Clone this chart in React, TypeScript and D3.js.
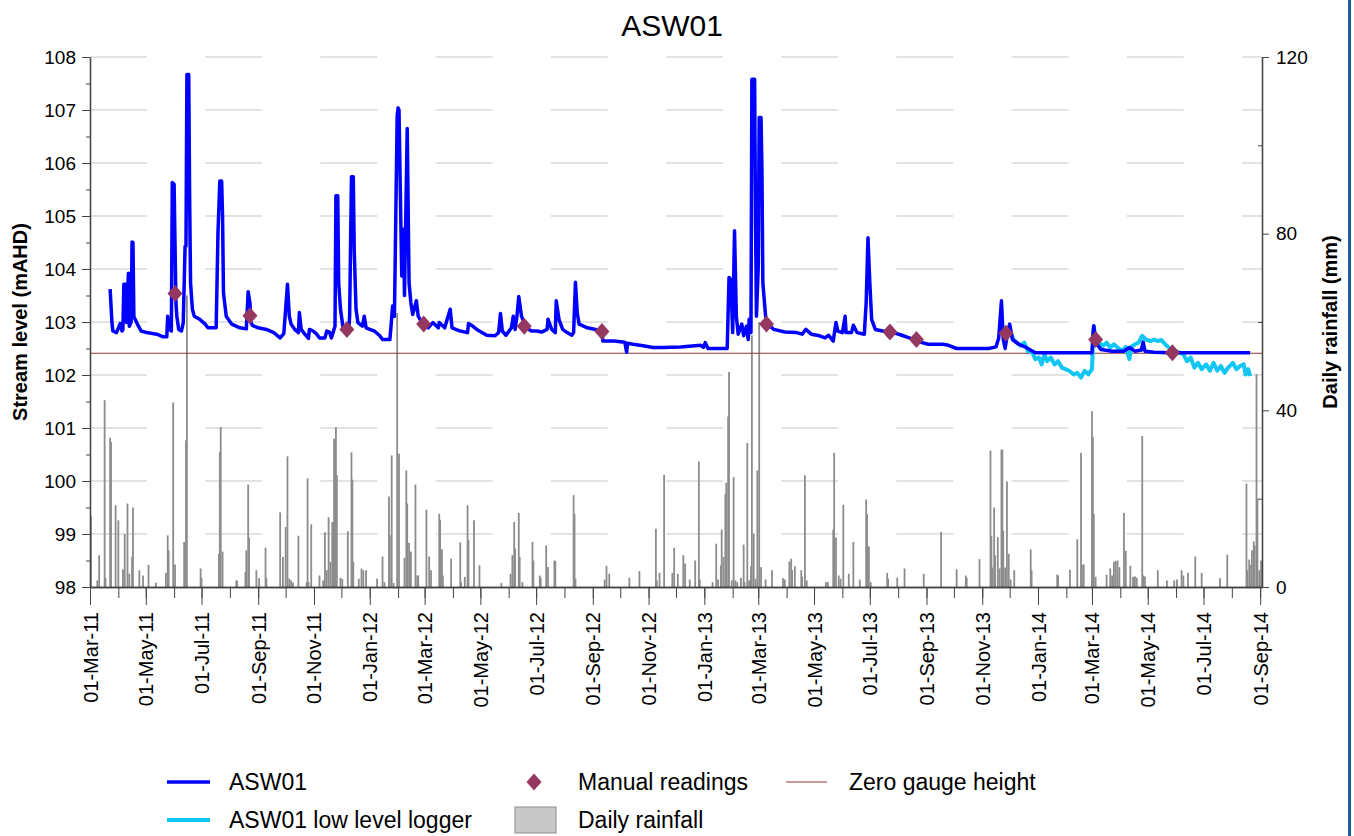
import React, { useEffect, useRef } from "react";
import {
  axisBottom,
  axisLeft,
  axisRight,
  line,
  scaleLinear,
  scaleTime,
  select,
  timeFormat,
  timeMonth,
  timeParse,
} from "d3";

// stream level, ASW01 logger (date, mAHD)
const asw01: [string, number][] = [
  ["2011-03-23", 103.62], ["2011-03-25", 102.99], ["2011-03-26", 102.83], ["2011-03-30", 102.8],
  ["2011-04-03", 102.97], ["2011-04-05", 102.83], ["2011-04-06", 102.86], ["2011-04-07", 103.71],
  ["2011-04-09", 103.71], ["2011-04-10", 102.99], ["2011-04-12", 103.92], ["2011-04-13", 102.92],
  ["2011-04-15", 103.0], ["2011-04-16", 104.51], ["2011-04-17", 104.5], ["2011-04-18", 103.1],
  ["2011-04-23", 102.92], ["2011-04-26", 102.83], ["2011-05-02", 102.8], ["2011-05-13", 102.77],
  ["2011-05-20", 102.72], ["2011-05-24", 102.72], ["2011-05-25", 103.11], ["2011-05-27", 102.86],
  ["2011-05-29", 102.83], ["2011-05-30", 105.63], ["2011-06-01", 105.6], ["2011-06-03", 103.36],
  ["2011-06-04", 103.11], ["2011-06-06", 102.86], ["2011-06-09", 102.83], ["2011-06-11", 102.99],
  ["2011-06-13", 104.43], ["2011-06-14", 104.43], ["2011-06-15", 107.67], ["2011-06-17", 107.67],
  ["2011-06-18", 105.31], ["2011-06-19", 103.74], ["2011-06-21", 103.24], ["2011-06-23", 103.11],
  ["2011-06-29", 103.05], ["2011-07-05", 102.96], ["2011-07-08", 102.89], ["2011-07-17", 102.89],
  ["2011-07-19", 104.69], ["2011-07-21", 105.66], ["2011-07-23", 105.66], ["2011-07-24", 105.0],
  ["2011-07-25", 103.55], ["2011-07-28", 103.11], ["2011-08-03", 102.96], ["2011-08-12", 102.89],
  ["2011-08-19", 102.87], ["2011-08-21", 103.57], ["2011-08-23", 103.36], ["2011-08-24", 102.99],
  ["2011-08-26", 102.93], ["2011-09-01", 102.89], ["2011-09-10", 102.86], ["2011-09-18", 102.8],
  ["2011-09-25", 102.7], ["2011-09-29", 102.78], ["2011-10-03", 103.71], ["2011-10-05", 103.11],
  ["2011-10-07", 102.96], ["2011-10-11", 102.86], ["2011-10-15", 102.8], ["2011-10-16", 103.18],
  ["2011-10-18", 102.86], ["2011-10-22", 102.77], ["2011-10-26", 102.69], ["2011-10-27", 102.86],
  ["2011-10-31", 102.83], ["2011-11-04", 102.77], ["2011-11-07", 102.7], ["2011-11-13", 102.7],
  ["2011-11-15", 102.83], ["2011-11-18", 102.81], ["2011-11-20", 102.7], ["2011-11-24", 102.92],
  ["2011-11-25", 105.38], ["2011-11-27", 105.38], ["2011-11-28", 103.74], ["2011-11-30", 103.24],
  ["2011-12-03", 102.87], ["2011-12-09", 102.83], ["2011-12-10", 103.11], ["2011-12-12", 105.74],
  ["2011-12-14", 105.74], ["2011-12-15", 104.37], ["2011-12-17", 103.24], ["2011-12-19", 102.99],
  ["2011-12-24", 102.92], ["2011-12-26", 103.11], ["2011-12-28", 102.89], ["2012-01-01", 102.86],
  ["2012-01-06", 102.83], ["2012-01-12", 102.74], ["2012-01-15", 102.67], ["2012-01-23", 102.67],
  ["2012-01-24", 102.86], ["2012-01-26", 103.3], ["2012-01-28", 103.11], ["2012-01-31", 106.89],
  ["2012-02-01", 107.04], ["2012-02-02", 107.0], ["2012-02-05", 103.87], ["2012-02-07", 104.75],
  ["2012-02-08", 103.5], ["2012-02-11", 106.65], ["2012-02-13", 103.74], ["2012-02-15", 103.36],
  ["2012-02-17", 103.14], ["2012-02-21", 103.4], ["2012-02-23", 103.11], ["2012-02-26", 103.02],
  ["2012-03-05", 102.89], ["2012-03-07", 102.93], ["2012-03-10", 102.99], ["2012-03-16", 102.89],
  ["2012-03-17", 102.99], ["2012-03-23", 102.89], ["2012-03-29", 103.24], ["2012-03-31", 102.89],
  ["2012-04-09", 102.83], ["2012-04-17", 102.8], ["2012-04-18", 102.97], ["2012-04-22", 102.93],
  ["2012-04-27", 102.86], ["2012-05-08", 102.75], ["2012-05-17", 102.74], ["2012-05-21", 102.8],
  ["2012-05-23", 103.16], ["2012-05-25", 102.83], ["2012-05-29", 102.75], ["2012-06-04", 102.89],
  ["2012-06-06", 103.11], ["2012-06-08", 102.86], ["2012-06-10", 103.11], ["2012-06-12", 103.48],
  ["2012-06-15", 103.11], ["2012-06-20", 102.89], ["2012-06-26", 102.83], ["2012-07-02", 102.83],
  ["2012-07-07", 102.81], ["2012-07-13", 102.86], ["2012-07-14", 103.05], ["2012-07-18", 102.86],
  ["2012-07-22", 102.8], ["2012-07-23", 103.4], ["2012-07-26", 103.05], ["2012-07-30", 102.86],
  ["2012-08-04", 102.8], ["2012-08-09", 102.75], ["2012-08-11", 102.8], ["2012-08-13", 103.75],
  ["2012-08-15", 103.17], ["2012-08-17", 102.96], ["2012-08-26", 102.89], ["2012-09-04", 102.86],
  ["2012-09-11", 102.8], ["2012-09-12", 102.64], ["2012-09-24", 102.64], ["2012-10-06", 102.62],
  ["2012-10-08", 102.43], ["2012-10-09", 102.6], ["2012-10-15", 102.58], ["2012-10-26", 102.55],
  ["2012-11-06", 102.52], ["2012-11-17", 102.52], ["2012-12-06", 102.53], ["2012-12-28", 102.56],
  ["2012-12-31", 102.52], ["2013-01-02", 102.61], ["2013-01-05", 102.5], ["2013-01-26", 102.5],
  ["2013-01-28", 103.84], ["2013-01-30", 103.8], ["2013-02-01", 102.8], ["2013-02-03", 104.72],
  ["2013-02-05", 103.11], ["2013-02-07", 102.77], ["2013-02-11", 102.96], ["2013-02-13", 102.74],
  ["2013-02-16", 102.92], ["2013-02-18", 102.67], ["2013-02-19", 103.05], ["2013-02-21", 102.8],
  ["2013-02-22", 107.58], ["2013-02-25", 107.58], ["2013-02-26", 104.87], ["2013-02-27", 103.11],
  ["2013-03-01", 104.06], ["2013-03-02", 106.86], ["2013-03-04", 106.86], ["2013-03-05", 105.88],
  ["2013-03-06", 103.74], ["2013-03-09", 103.11], ["2013-03-11", 102.97], ["2013-03-18", 102.86],
  ["2013-03-30", 102.81], ["2013-04-12", 102.8], ["2013-04-18", 102.77], ["2013-04-22", 102.86],
  ["2013-04-28", 102.77], ["2013-05-07", 102.74], ["2013-05-13", 102.7], ["2013-05-17", 102.75],
  ["2013-05-22", 102.64], ["2013-05-25", 102.99], ["2013-05-27", 102.83], ["2013-06-01", 102.8],
  ["2013-06-04", 103.11], ["2013-06-05", 102.8], ["2013-06-11", 102.8], ["2013-06-13", 102.94],
  ["2013-06-17", 102.8], ["2013-06-25", 102.77], ["2013-06-27", 103.36], ["2013-06-29", 104.59],
  ["2013-07-01", 103.74], ["2013-07-03", 103.05], ["2013-07-07", 102.86], ["2013-07-15", 102.83],
  ["2013-07-27", 102.8], ["2013-08-05", 102.75], ["2013-08-13", 102.7], ["2013-08-25", 102.62],
  ["2013-09-03", 102.58], ["2013-09-19", 102.58], ["2013-09-25", 102.56], ["2013-10-04", 102.5],
  ["2013-10-22", 102.5], ["2013-11-08", 102.5], ["2013-11-16", 102.53], ["2013-11-19", 102.7],
  ["2013-11-22", 103.4], ["2013-11-24", 102.67], ["2013-11-26", 102.5], ["2013-11-28", 102.72],
  ["2013-12-01", 102.96], ["2013-12-04", 102.67], ["2013-12-11", 102.58], ["2013-12-19", 102.52],
  ["2013-12-29", 102.42], ["2014-03-01", 102.42], ["2014-03-02", 102.74], ["2014-03-03", 102.93],
  ["2014-03-05", 102.61], ["2014-03-11", 102.48], ["2014-03-23", 102.45], ["2014-04-05", 102.45],
  ["2014-04-11", 102.52], ["2014-04-17", 102.45], ["2014-04-24", 102.47], ["2014-04-26", 102.62],
  ["2014-04-28", 102.45], ["2014-05-08", 102.43], ["2014-05-24", 102.42], ["2014-08-21", 102.42],
];

// low level logger (date, mAHD)
const lowLogger: [string, number][] = [
  ["2013-11-30", 102.92], ["2013-12-05", 102.67], ["2013-12-09", 102.61], ["2013-12-13", 102.55],
  ["2013-12-17", 102.61], ["2013-12-21", 102.45], ["2013-12-25", 102.45], ["2013-12-29", 102.3],
  ["2014-01-02", 102.33], ["2014-01-05", 102.2], ["2014-01-08", 102.39], ["2014-01-11", 102.26],
  ["2014-01-15", 102.33], ["2014-01-19", 102.2], ["2014-01-23", 102.26], ["2014-01-27", 102.14],
  ["2014-01-31", 102.11], ["2014-02-04", 102.08], ["2014-02-09", 102.01], ["2014-02-13", 102.04],
  ["2014-02-17", 101.95], ["2014-02-21", 102.08], ["2014-02-25", 102.01], ["2014-03-01", 102.11],
  ["2014-03-03", 102.92], ["2014-03-05", 102.67], ["2014-03-09", 102.61], ["2014-03-13", 102.55],
  ["2014-03-17", 102.61], ["2014-03-21", 102.52], ["2014-03-25", 102.58], ["2014-03-29", 102.52],
  ["2014-04-03", 102.45], ["2014-04-07", 102.53], ["2014-04-11", 102.3], ["2014-04-13", 102.53],
  ["2014-04-17", 102.58], ["2014-04-21", 102.61], ["2014-04-25", 102.74], ["2014-04-29", 102.67],
  ["2014-05-04", 102.64], ["2014-05-08", 102.67], ["2014-05-12", 102.64], ["2014-05-16", 102.66],
  ["2014-05-20", 102.58], ["2014-05-24", 102.52], ["2014-05-28", 102.45], ["2014-06-01", 102.45],
  ["2014-06-05", 102.42], ["2014-06-09", 102.39], ["2014-06-13", 102.26], ["2014-06-17", 102.33],
  ["2014-06-21", 102.14], ["2014-06-25", 102.23], ["2014-06-29", 102.11], ["2014-07-04", 102.2],
  ["2014-07-08", 102.08], ["2014-07-12", 102.23], ["2014-07-16", 102.08], ["2014-07-20", 102.17],
  ["2014-07-24", 102.04], ["2014-07-28", 102.14], ["2014-08-02", 102.23], ["2014-08-06", 102.11],
  ["2014-08-10", 102.17], ["2014-08-14", 102.2], ["2014-08-16", 102.01], ["2014-08-19", 102.11],
  ["2014-08-21", 101.98],
];

// manual readings (date, mAHD)
const manual: [string, number][] = [
  ["2011-06-02", 103.54], ["2011-08-23", 103.12], ["2011-12-07", 102.86], ["2012-02-29", 102.96],
  ["2012-06-18", 102.92], ["2012-09-11", 102.82], ["2013-03-10", 102.96], ["2013-07-23", 102.81],
  ["2013-08-21", 102.67], ["2013-11-27", 102.79], ["2014-03-05", 102.67], ["2014-05-28", 102.42],
];

// daily rainfall (date, mm), dry days left out
const rainfall: [string, number][] = [
  ["2011-03-02", 16.0], ["2011-03-09", 1.5], ["2011-03-11", 7.2], ["2011-03-17", 42.3],
  ["2011-03-18", 2.0], ["2011-03-23", 33.8], ["2011-03-24", 32.8], ["2011-03-29", 18.5],
  ["2011-04-01", 15.1], ["2011-04-06", 4.0], ["2011-04-08", 12.0], ["2011-04-11", 18.9],
  ["2011-04-13", 3.0], ["2011-04-16", 6.8], ["2011-04-17", 18.0], ["2011-04-24", 3.8],
  ["2011-04-28", 2.6], ["2011-05-04", 5.0], ["2011-05-12", 1.0], ["2011-05-23", 3.2],
  ["2011-05-25", 11.7], ["2011-05-26", 8.3], ["2011-05-31", 41.8], ["2011-06-02", 5.1],
  ["2011-06-12", 10.2], ["2011-06-14", 33.2], ["2011-06-15", 66.0], ["2011-06-30", 4.2],
  ["2011-07-01", 2.0], ["2011-07-20", 7.5], ["2011-07-21", 30.6], ["2011-07-22", 36.2],
  ["2011-07-24", 8.0], ["2011-08-08", 1.5], ["2011-08-09", 1.4], ["2011-08-18", 3.4],
  ["2011-08-19", 8.3], ["2011-08-21", 23.2], ["2011-08-22", 11.2], ["2011-08-30", 3.8],
  ["2011-09-02", 2.0], ["2011-09-09", 8.9], ["2011-09-10", 2.0], ["2011-09-25", 16.9],
  ["2011-09-28", 6.8], ["2011-10-01", 13.6], ["2011-10-03", 29.6], ["2011-10-05", 1.9],
  ["2011-10-07", 1.5], ["2011-10-09", 1.0], ["2011-10-15", 11.6], ["2011-10-24", 1.1],
  ["2011-10-25", 24.6], ["2011-10-26", 1.1], ["2011-10-29", 14.2], ["2011-11-07", 2.6],
  ["2011-11-11", 1.5], ["2011-11-13", 12.4], ["2011-11-15", 3.8], ["2011-11-17", 15.8],
  ["2011-11-19", 5.7], ["2011-11-21", 14.7], ["2011-11-22", 14.7], ["2011-11-23", 33.6],
  ["2011-11-25", 36.2], ["2011-11-26", 25.3], ["2011-11-30", 2.1], ["2011-12-02", 1.8],
  ["2011-12-08", 12.6], ["2011-12-12", 30.5], ["2011-12-13", 24.3], ["2011-12-14", 5.7],
  ["2011-12-20", 1.9], ["2011-12-23", 4.2], ["2011-12-25", 3.8], ["2011-12-28", 3.8],
  ["2012-01-09", 1.9], ["2012-01-15", 6.9], ["2012-01-17", 1.1], ["2012-01-22", 20.5],
  ["2012-01-23", 11.7], ["2012-01-25", 29.8], ["2012-01-27", 0.9], ["2012-01-31", 62.0],
  ["2012-02-02", 30.2], ["2012-02-08", 6.6], ["2012-02-10", 26.4], ["2012-02-11", 18.9],
  ["2012-02-13", 10.0], ["2012-02-15", 8.0], ["2012-02-20", 23.2], ["2012-02-22", 2.6],
  ["2012-02-23", 2.6], ["2012-03-03", 17.5], ["2012-03-06", 6.9], ["2012-03-08", 3.8],
  ["2012-03-17", 16.6], ["2012-03-18", 15.2], ["2012-03-20", 8.5], ["2012-03-21", 2.6],
  ["2012-03-30", 6.4], ["2012-04-09", 10.1], ["2012-04-10", 1.1], ["2012-04-14", 2.3],
  ["2012-04-17", 18.5], ["2012-04-18", 10.6], ["2012-04-24", 15.1], ["2012-04-30", 4.9],
  ["2012-05-24", 0.9], ["2012-06-03", 3.0], ["2012-06-05", 7.2], ["2012-06-07", 14.7],
  ["2012-06-08", 8.7], ["2012-06-12", 16.8], ["2012-06-13", 6.8], ["2012-06-16", 1.1],
  ["2012-06-27", 10.2], ["2012-06-28", 6.0], ["2012-07-05", 2.6], ["2012-07-06", 2.1],
  ["2012-07-12", 9.4], ["2012-07-14", 4.5], ["2012-07-21", 6.0], ["2012-07-22", 5.9],
  ["2012-08-11", 20.8], ["2012-08-12", 16.5], ["2012-08-13", 1.9], ["2012-09-14", 1.7],
  ["2012-09-16", 4.8], ["2012-09-19", 3.0], ["2012-10-11", 2.1], ["2012-10-22", 3.6],
  ["2012-11-09", 13.2], ["2012-11-10", 1.5], ["2012-11-13", 3.2], ["2012-11-18", 25.4],
  ["2012-11-27", 3.2], ["2012-11-29", 8.9], ["2012-12-03", 3.0], ["2012-12-09", 7.2],
  ["2012-12-11", 5.3], ["2012-12-16", 1.7], ["2012-12-22", 6.0], ["2012-12-26", 28.4],
  ["2012-12-27", 1.7], ["2013-01-10", 1.1], ["2013-01-14", 9.8], ["2013-01-16", 1.7],
  ["2013-01-19", 4.9], ["2013-01-20", 13.0], ["2013-01-22", 6.8], ["2013-01-24", 21.0],
  ["2013-01-25", 23.6], ["2013-01-27", 38.6], ["2013-01-28", 48.7], ["2013-01-31", 1.5],
  ["2013-02-02", 24.9], ["2013-02-04", 1.5], ["2013-02-06", 1.1], ["2013-02-10", 2.1],
  ["2013-02-13", 9.6], ["2013-02-14", 1.1], ["2013-02-17", 32.6], ["2013-02-19", 1.5],
  ["2013-02-21", 4.7], ["2013-02-22", 57.0], ["2013-02-24", 12.1], ["2013-02-26", 1.9],
  ["2013-02-28", 26.4], ["2013-03-02", 60.0], ["2013-03-04", 4.5], ["2013-03-09", 1.7],
  ["2013-03-16", 3.8], ["2013-03-28", 2.0], ["2013-03-30", 1.7], ["2013-04-04", 5.8],
  ["2013-04-06", 6.4], ["2013-04-07", 3.8], ["2013-04-10", 4.7], ["2013-04-17", 3.8],
  ["2013-04-18", 2.3], ["2013-04-21", 25.3], ["2013-04-23", 1.5], ["2013-05-14", 1.1],
  ["2013-05-16", 1.1], ["2013-05-22", 13.0], ["2013-05-23", 30.4], ["2013-05-25", 11.2],
  ["2013-05-28", 2.6], ["2013-05-30", 1.9], ["2013-06-02", 18.6], ["2013-06-08", 3.0],
  ["2013-06-13", 10.2], ["2013-06-20", 1.7], ["2013-06-27", 19.8], ["2013-06-28", 16.5],
  ["2013-06-30", 9.2], ["2013-07-02", 1.1], ["2013-07-20", 3.2], ["2013-07-21", 1.9],
  ["2013-07-31", 2.1], ["2013-08-08", 4.2], ["2013-08-29", 3.0], ["2013-09-17", 12.5],
  ["2013-10-04", 4.0], ["2013-10-14", 2.6], ["2013-10-15", 2.1], ["2013-10-29", 6.3],
  ["2013-11-10", 30.9], ["2013-11-11", 11.5], ["2013-11-12", 4.4], ["2013-11-14", 18.0],
  ["2013-11-15", 7.2], ["2013-11-18", 11.3], ["2013-11-20", 4.2], ["2013-11-22", 31.1],
  ["2013-11-23", 31.1], ["2013-11-24", 12.7], ["2013-11-26", 4.4], ["2013-11-28", 23.9],
  ["2013-11-30", 7.5], ["2013-12-02", 1.7], ["2013-12-06", 3.8], ["2013-12-24", 8.5],
  ["2013-12-25", 3.8], ["2014-01-22", 2.8], ["2014-01-23", 2.6], ["2014-02-05", 3.9],
  ["2014-02-13", 10.8], ["2014-02-17", 30.4], ["2014-02-18", 5.1], ["2014-02-20", 5.1],
  ["2014-03-01", 39.8], ["2014-03-02", 34.0], ["2014-03-03", 16.6], ["2014-03-05", 2.3],
  ["2014-03-17", 2.8], ["2014-03-21", 4.2], ["2014-03-23", 2.6], ["2014-03-25", 5.7],
  ["2014-03-27", 5.9], ["2014-03-29", 6.0], ["2014-03-31", 4.5], ["2014-04-05", 16.8],
  ["2014-04-07", 8.2], ["2014-04-12", 4.8], ["2014-04-15", 2.3], ["2014-04-17", 2.4],
  ["2014-04-19", 2.1], ["2014-04-25", 34.2], ["2014-04-26", 2.6], ["2014-04-28", 2.4],
  ["2014-05-12", 3.8], ["2014-05-22", 1.5], ["2014-05-30", 1.5], ["2014-06-02", 1.7],
  ["2014-06-07", 3.8], ["2014-06-09", 2.6], ["2014-06-14", 3.2], ["2014-06-22", 6.9],
  ["2014-06-29", 3.2], ["2014-07-19", 2.0], ["2014-07-27", 7.3], ["2014-08-17", 23.4],
  ["2014-08-18", 3.8], ["2014-08-20", 6.2], ["2014-08-22", 5.0], ["2014-08-23", 8.3],
  ["2014-08-25", 10.3], ["2014-08-26", 9.4], ["2014-08-28", 48.2], ["2014-08-29", 20.0],
  ["2014-08-31", 3.8], ["2014-09-02", 6.0],
];

const zeroGauge = 102.41;
const levelTicks = [98, 99, 100, 101, 102, 103, 104, 105, 106, 107, 108];
const levelMinor = [98.5, 99.5, 100.5, 101.5, 102.5, 103.5, 104.5, 105.5, 106.5, 107.5];
const rainTicks = [0, 40, 80, 120];
const rainMinor = [20, 60, 100];
const dateRange = ["2011-03-01", "2014-09-03"];

const width = 1354;
const height = 836;
const left = 90;
const right = 1262;
const top = 57;
const bottom = 587;
const font = "'Liberation Sans', Arial, sans-serif";

const parse = timeParse("%Y-%m-%d");

export default function App() {
  const svgRef = useRef<SVGSVGElement | null>(null);

  useEffect(() => {
    const svg = select(svgRef.current);
    svg.selectAll("*").remove();
    svg
      .attr("width", width)
      .attr("height", height)
      .style("background", "#fff")
      .style("font-family", font);

    const x = scaleTime()
      .domain(dateRange.map((d) => parse(d) as Date))
      .range([left, right]);
    const y = scaleLinear().domain([98, 108]).range([bottom, top]);
    const yRain = scaleLinear().domain([0, 120]).range([bottom, top]);

    // dashed gridlines
    svg
      .append("g")
      .selectAll("line")
      .data(levelTicks.slice(1))
      .join("line")
      .attr("x1", left)
      .attr("x2", right)
      .attr("y1", (d) => y(d))
      .attr("y2", (d) => y(d))
      .attr("stroke", "#dadada")
      .attr("stroke-width", 1.5)
      .attr("stroke-dasharray", "57 58.2");

    // rainfall bars
    svg
      .append("g")
      .selectAll("rect")
      .data(rainfall)
      .join("rect")
      .attr("x", (d) => x(parse(d[0]) as Date) - 0.9)
      .attr("width", 1.8)
      .attr("y", (d) => yRain(d[1]))
      .attr("height", (d) => bottom - yRain(d[1]))
      .attr("fill", "#8c8c8c");

    // zero gauge height
    svg
      .append("line")
      .attr("x1", left)
      .attr("x2", right)
      .attr("y1", y(zeroGauge))
      .attr("y2", y(zeroGauge))
      .attr("stroke", "#8b3a3a")
      .attr("stroke-width", 1.2);

    const levelLine = line<[string, number]>()
      .x((d) => x(parse(d[0]) as Date))
      .y((d) => y(d[1]));

    svg
      .append("path")
      .datum(lowLogger)
      .attr("fill", "none")
      .attr("stroke", "#12c6f3")
      .attr("stroke-width", 4)
      .attr("stroke-linejoin", "round")
      .attr("d", levelLine);

    svg
      .append("path")
      .datum(asw01)
      .attr("fill", "none")
      .attr("stroke", "#0000ff")
      .attr("stroke-width", 3.5)
      .attr("stroke-linejoin", "round")
      .attr("d", levelLine);

    const diamond = "M0,-8.5L7.5,0L0,8.5L-7.5,0Z";
    svg
      .append("g")
      .selectAll("path")
      .data(manual)
      .join("path")
      .attr("d", diamond)
      .attr("transform", (d) => `translate(${x(parse(d[0]) as Date)},${y(d[1])})`)
      .attr("fill", "#953861");

    const styleAxis = (g: any, size: number) => {
      g.selectAll("text").attr("font-family", font).attr("font-size", size).attr("fill", "#000");
      g.selectAll("line").attr("stroke", "#444");
      g.select(".domain").attr("stroke", "#444").attr("stroke-width", 1.3);
    };

    // left axis
    svg
      .append("g")
      .attr("transform", `translate(${left},0)`)
      .call(axisLeft(y).tickValues(levelMinor).tickSize(4).tickSizeOuter(0).tickFormat(() => ""))
      .call((g) => styleAxis(g, 19));
    svg
      .append("g")
      .attr("transform", `translate(${left},0)`)
      .call(axisLeft(y).tickValues(levelTicks).tickSize(8).tickSizeOuter(0).tickPadding(6))
      .call((g) => styleAxis(g, 19));

    // right axis
    svg
      .append("g")
      .attr("transform", `translate(${right},0)`)
      .call(axisLeft(yRain).tickValues(rainMinor).tickSize(4).tickSizeOuter(0).tickFormat(() => ""))
      .call((g) => styleAxis(g, 19));
    svg
      .append("g")
      .attr("transform", `translate(${right},0)`)
      .call(axisRight(yRain).tickValues(rainTicks).tickSize(7).tickSizeOuter(0).tickPadding(7))
      .call((g) => styleAxis(g, 19));

    // bottom axis
    svg
      .append("g")
      .attr("transform", `translate(0,${bottom})`)
      .call(axisBottom(x).ticks(timeMonth.every(1)).tickSize(11).tickSizeOuter(0).tickFormat(() => ""))
      .call((g) => styleAxis(g, 20));
    svg
      .append("g")
      .attr("transform", `translate(0,${bottom})`)
      .call(
        axisBottom(x)
          .ticks(timeMonth.every(2))
          .tickSize(18)
          .tickSizeOuter(0)
          .tickFormat((d) => timeFormat("%d-%b-%y")(d as Date))
      )
      .call((g) => styleAxis(g, 20))
      .call((g) =>
        g
          .selectAll("text")
          .attr("transform", "rotate(-90)")
          .attr("text-anchor", "end")
          .attr("x", -25)
          .attr("y", 0)
          .attr("dy", "0.35em")
      );

    // titles
    svg
      .append("text")
      .attr("x", 672)
      .attr("y", 36)
      .attr("text-anchor", "middle")
      .attr("font-size", 30)
      .text("ASW01");
    svg
      .append("text")
      .attr("transform", `translate(27,${(top + bottom) / 2}) rotate(-90)`)
      .attr("text-anchor", "middle")
      .attr("font-size", 20)
      .attr("font-weight", "bold")
      .text("Stream level (mAHD)");
    svg
      .append("text")
      .attr("transform", `translate(1337,${(top + bottom) / 2}) rotate(-90)`)
      .attr("text-anchor", "middle")
      .attr("font-size", 20)
      .attr("font-weight", "bold")
      .text("Daily rainfall (mm)");

    // legend
    const lg = svg.append("g").attr("font-size", 23);
    const row1 = 782;
    const row2 = 820;
    lg.append("line").attr("x1", 167).attr("x2", 210).attr("y1", row1).attr("y2", row1)
      .attr("stroke", "#0000ff").attr("stroke-width", 3.5);
    lg.append("text").attr("x", 229).attr("y", row1).attr("dy", "0.35em").text("ASW01");
    lg.append("line").attr("x1", 167).attr("x2", 210).attr("y1", row2).attr("y2", row2)
      .attr("stroke", "#12c6f3").attr("stroke-width", 4);
    lg.append("text").attr("x", 229).attr("y", row2).attr("dy", "0.35em").text("ASW01 low level logger");
    lg.append("path").attr("d", diamond).attr("transform", `translate(534,${row1})`).attr("fill", "#953861");
    lg.append("text").attr("x", 578).attr("y", row1).attr("dy", "0.35em").text("Manual readings");
    lg.append("rect").attr("x", 515).attr("y", row2 - 13).attr("width", 41).attr("height", 26)
      .attr("fill", "#c8c8c8").attr("stroke", "#8c8c8c");
    lg.append("text").attr("x", 578).attr("y", row2).attr("dy", "0.35em").text("Daily rainfall");
    lg.append("line").attr("x1", 786).attr("x2", 827).attr("y1", row1).attr("y2", row1)
      .attr("stroke", "#8b3a3a").attr("stroke-width", 1.2);
    lg.append("text").attr("x", 849).attr("y", row1).attr("dy", "0.35em").text("Zero gauge height");

    // frame edge on the right
    svg.append("rect").attr("x", 1348).attr("y", 0).attr("width", 3).attr("height", height).attr("fill", "#1f5c99");
  }, []);

  return (
    <svg
      ref={svgRef}
      style={{ position: "absolute", left: 0, top: 0, display: "block" }}
    ></svg>
  );
}
